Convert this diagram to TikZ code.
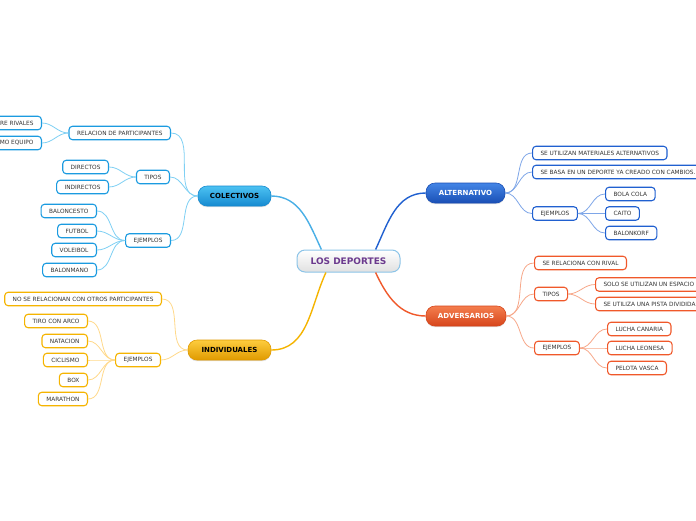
\documentclass[tikz,border=0pt]{standalone}
\usepackage{fontspec}
\setmainfont{DejaVu Sans}
\usetikzlibrary{shadows}
\definecolor{colB}{HTML}{1B9BE0}
\definecolor{colBl}{HTML}{7FD0F4}
\definecolor{colBt}{HTML}{4CC2F2}
\definecolor{colBb}{HTML}{168AD0}
\definecolor{colI}{HTML}{F5B400}
\definecolor{colIl}{HTML}{FFD98A}
\definecolor{colIt}{HTML}{FDCD3E}
\definecolor{colIb}{HTML}{E09A00}
\definecolor{colA}{HTML}{2060D0}
\definecolor{colAl}{HTML}{7EA6E8}
\definecolor{colAt}{HTML}{4385E6}
\definecolor{colAb}{HTML}{1A4FB5}
\definecolor{colR}{HTML}{F0582A}
\definecolor{colRl}{HTML}{F7A88A}
\definecolor{colRt}{HTML}{F47E4E}
\definecolor{colRb}{HTML}{D6451B}
\definecolor{rootborder}{HTML}{8CC4E8}
\definecolor{roottext}{HTML}{6B3A8E}
\begin{document}
\begin{tikzpicture}[x=1pt,y=1pt,
  leaf/.style={draw, line width=1.1pt, rounded corners=3.5pt, fill=white,
    minimum height=13.5pt, inner xsep=8pt, inner ysep=0pt,
    font=\fontsize{5.8}{6.8}\selectfont, text=black!80},
  leafB/.style={leaf, draw=colB},
  leafI/.style={leaf, draw=colI},
  leafA/.style={leaf, draw=colA},
  leafR/.style={leaf, draw=colR},
  branch/.style={rounded corners=9pt, minimum height=20pt, inner xsep=0pt,
    font=\fontsize{7}{8}\selectfont\bfseries, line width=0.6pt,
    drop shadow={shadow xshift=0pt, shadow yshift=-1.2pt, opacity=0.25}},
  lB/.style={draw=colBl, line width=0.8pt},
  lI/.style={draw=colIl, line width=0.8pt},
  lA/.style={draw=colAl, line width=0.8pt},
  lR/.style={draw=colRl, line width=0.8pt},
  mB/.style={draw=colB!80, line width=1.4pt},
  mI/.style={draw=colI, line width=1.4pt},
  mA/.style={draw=colA, line width=1.4pt},
  mR/.style={draw=colR, line width=1.4pt}
]
\useasboundingbox (0,0) rectangle (696,-520);
\fill[white] (0,0) rectangle (696,-520);

% root
\node[draw=rootborder, line width=1pt, rounded corners=8pt, top color=white,
  bottom color=black!12, minimum width=103pt, minimum height=22pt,
  font=\fontsize{9}{10}\selectfont\bfseries, text=roottext] (root) at (348.5,-261) {LOS DEPORTES};

% branches
\node[branch, draw=colBb, top color=colBt, bottom color=colBb, minimum width=73pt, text=black] (col) at (234.5,-196) {COLECTIVOS};
\node[branch, draw=colIb, top color=colIt, bottom color=colIb, minimum width=83pt, text=black] (ind) at (229.5,-350) {INDIVIDUALES};
\node[branch, draw=colAb, top color=colAt, bottom color=colAb, minimum width=79pt, text=white] (alt) at (465.5,-193) {ALTERNATIVO};
\node[branch, draw=colRb, top color=colRt, bottom color=colRb, minimum width=80pt, text=white] (adv) at (466,-316) {ADVERSARIOS};

% main connectors
\draw[mB] (col.east) to[out=0,in=115] (root.157);
\draw[mA] (root.23) to[out=65,in=180] (alt.west);
\draw[mI] (ind.east) to[out=0,in=245] (root.207);
\draw[mR] (root.337) to[out=295,in=180] (adv.west);

% COLECTIVOS subtree
\node[leafB, anchor=east] (rel) at (171,-133) {RELACION DE PARTICIPANTES};
\node[leafB, anchor=east] (riv) at (42,-123) {ENTRE RIVALES};
\node[leafB, anchor=east] (eq) at (42,-143) {DEL MISMO EQUIPO};
\node[leafB, anchor=east] (tip) at (170,-177) {TIPOS};
\node[leafB, anchor=east] (dir) at (109,-167) {DIRECTOS};
\node[leafB, anchor=east] (indir) at (109,-187) {INDIRECTOS};
\node[leafB, anchor=east] (ejc) at (171,-240.5) {EJEMPLOS};
\node[leafB, anchor=east] (bal) at (97,-211) {BALONCESTO};
\node[leafB, anchor=east] (fut) at (97,-231) {FUTBOL};
\node[leafB, anchor=east] (vol) at (97,-250) {VOLEIBOL};
\node[leafB, anchor=east] (bman) at (97,-270) {BALONMANO};

\foreach \c in {rel,tip,ejc} \draw[lB] (col.west) to[out=180,in=0] (\c.east);
\foreach \c in {riv,eq} \draw[lB] (rel.west) to[out=180,in=0] (\c.east);
\foreach \c in {dir,indir} \draw[lB] (tip.west) to[out=180,in=0] (\c.east);
\foreach \c in {bal,fut,vol,bman} \draw[lB] (ejc.west) to[out=180,in=0] (\c.east);

% INDIVIDUALES subtree
\node[leafI, anchor=east] (nose) at (162,-299) {NO SE RELACIONAN CON OTROS PARTICIPANTES};
\node[leafI, anchor=east] (eji) at (161,-360) {EJEMPLOS};
\node[leafI, anchor=east] (tiro) at (88,-321) {TIRO CON ARCO};
\node[leafI, anchor=east] (nat) at (88,-341) {NATACION};
\node[leafI, anchor=east] (cic) at (88,-360) {CICLISMO};
\node[leafI, anchor=east] (box) at (88,-380) {BOX};
\node[leafI, anchor=east] (mar) at (88,-399) {MARATHON};

\foreach \c in {nose,eji} \draw[lI] (ind.west) to[out=180,in=0] (\c.east);
\foreach \c in {tiro,nat,cic,box,mar} \draw[lI] (eji.west) to[out=180,in=0] (\c.east);

% ALTERNATIVO subtree
\node[leafA, anchor=west] (mat) at (532,-153) {SE UTILIZAN MATERIALES ALTERNATIVOS};
\node[leafA, anchor=west] (basa) at (532,-172) {SE BASA EN UN DEPORTE YA CREADO CON CAMBIOS.};
\node[leafA, anchor=west] (eja) at (532,-213.5) {EJEMPLOS};
\node[leafA, anchor=west] (bola) at (605,-194) {BOLA COLA};
\node[leafA, anchor=west] (caito) at (605,-213.5) {CAITO};
\node[leafA, anchor=west] (bkorf) at (605,-233) {BALONKORF};

\foreach \c in {mat,basa,eja} \draw[lA] (alt.east) to[out=0,in=180] (\c.west);
\foreach \c in {bola,caito,bkorf} \draw[lA] (eja.east) to[out=0,in=180] (\c.west);

% ADVERSARIOS subtree
\node[leafR, anchor=west] (rival) at (534,-263) {SE RELACIONA CON RIVAL};
\node[leafR, anchor=west] (tipr) at (534,-294) {TIPOS};
\node[leafR, anchor=west] (solo) at (595,-284.5) {SOLO SE UTILIZAN UN ESPACIO};
\node[leafR, anchor=west] (pista) at (595,-304) {SE UTILIZA UNA PISTA DIVIDIDA};
\node[leafR, anchor=west] (ejr) at (534,-348) {EJEMPLOS};
\node[leafR, anchor=west] (lcan) at (607,-329) {LUCHA CANARIA};
\node[leafR, anchor=west] (lleo) at (607,-348) {LUCHA LEONESA};
\node[leafR, anchor=west] (pel) at (607,-368) {PELOTA VASCA};

\foreach \c in {rival,tipr,ejr} \draw[lR] (adv.east) to[out=0,in=180] (\c.west);
\foreach \c in {solo,pista} \draw[lR] (tipr.east) to[out=0,in=180] (\c.west);
\foreach \c in {lcan,lleo,pel} \draw[lR] (ejr.east) to[out=0,in=180] (\c.west);
\end{tikzpicture}
\end{document}
